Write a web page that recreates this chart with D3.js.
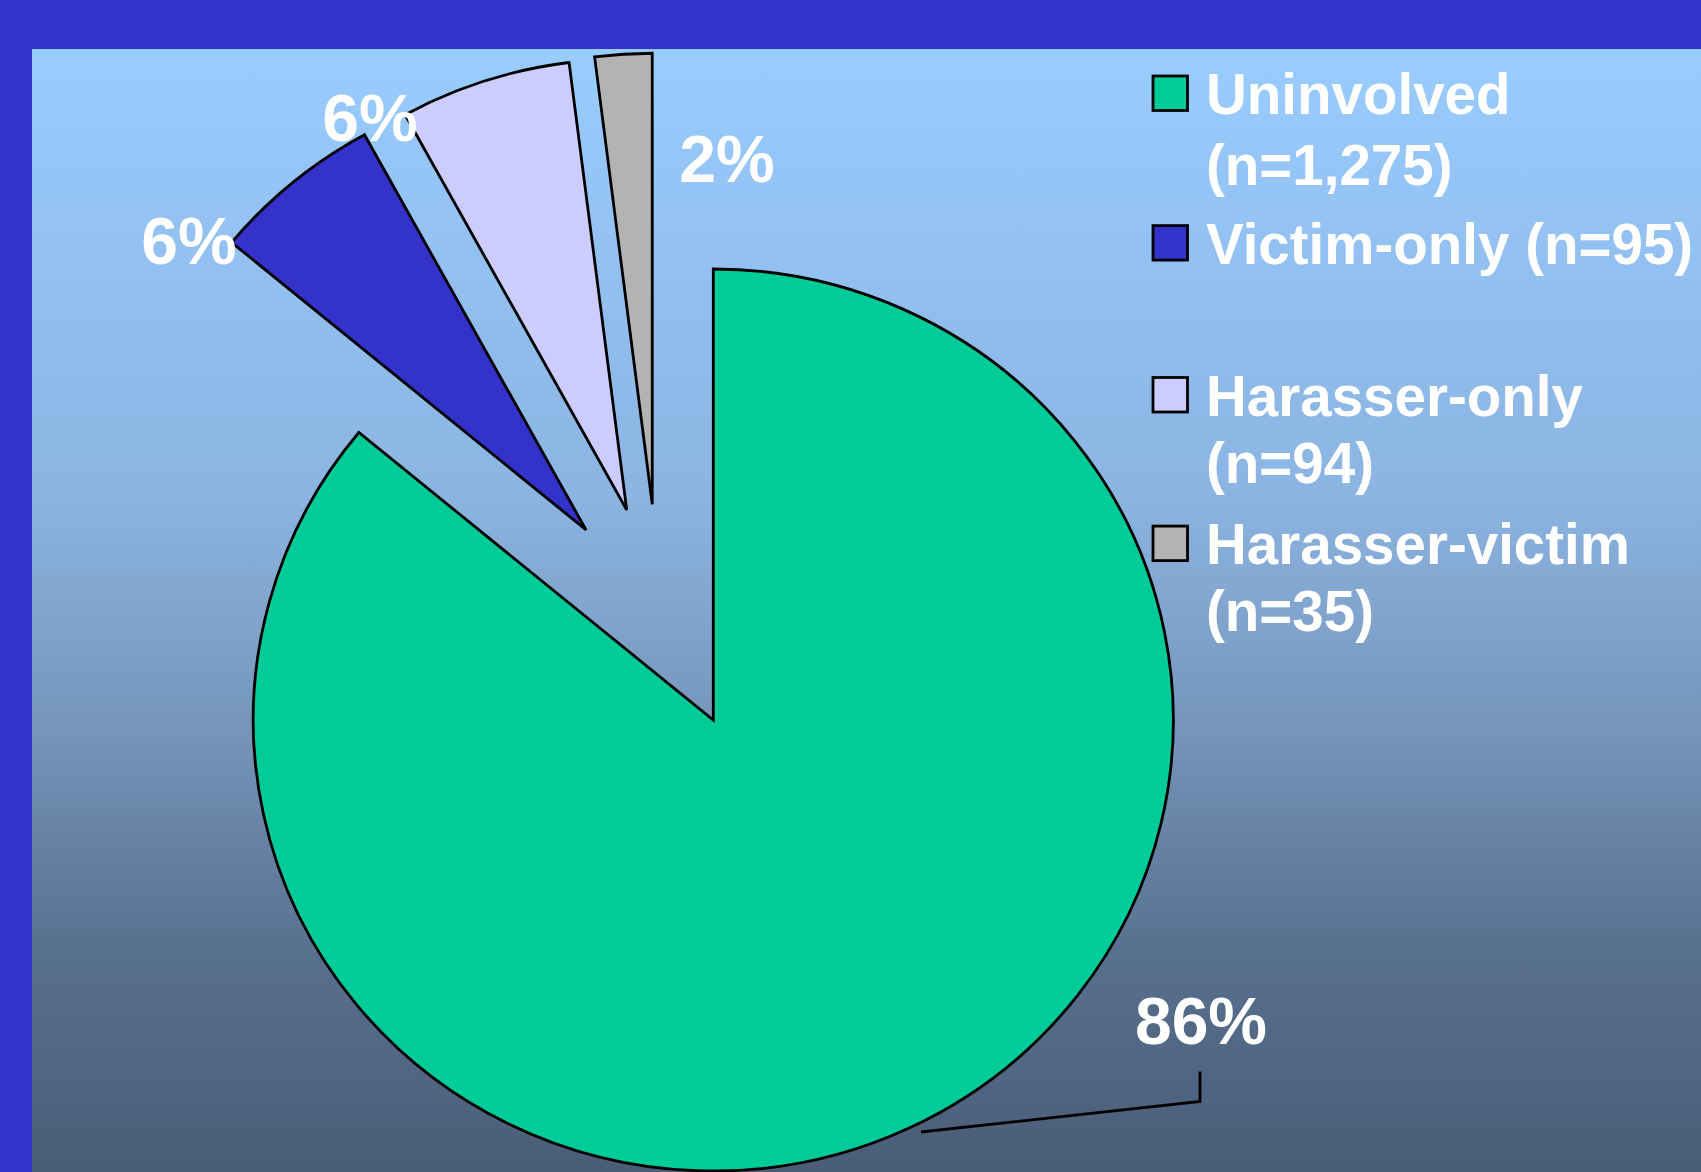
<!DOCTYPE html>
<html>
<head>
<meta charset="utf-8">
<script src="https://cdn.jsdelivr.net/npm/d3@7"></script>
<style>
  html, body { margin: 0; padding: 0; background: #3333CC; }
  svg { display: block; }
</style>
</head>
<body>
<svg id="chart" width="1701" height="1172"></svg>
<script>
// ---- data ----
const categories = ["Uninvolved", "Victim-only", "Harasser-only", "Harasser-victim"];
const values = [86, 6, 6, 2];
const percentLabels = ["86%", "6%", "6%", "2%"];
const legendLines = [
  ["Uninvolved", "(n=1,275)"],
  ["Victim-only (n=95)", ""],
  ["Harasser-only", "(n=94)"],
  ["Harasser-victim", "(n=35)"]
];

// ---- layout / style ----
const W = 1701, H = 1172;
const colors = ["#00CC99", "#3333CC", "#CCCCFF", "#B3B3B3"];
const cx = 713.3, cy = 720;
const rx = 460, ry = 451;
const explode = [ {a: 0, d: 0}, {a: 326.2, d: 228.7}, {a: 337.6, d: 227.2}, {a: 344.2, d: 224.2} ];
const labelPos = [ [1201, 1044], [189, 263.6], [370, 141], [727, 182] ];
const leader = [[921, 1132], [1200, 1101.5], [1200, 1071.5]];
const legendX = 1153, legendTextX = 1206, boxSize = 34.5;
const legendBaselines = [[114, 184.5], [263.6, 333], [415.5, 482.7], [564.1, 631.3]];
const fontFamily = "'Liberation Sans', Arial, Helvetica, sans-serif";

const svg = d3.select("#chart");

// background
const defs = svg.append("defs");
const grad = defs.append("linearGradient").attr("id", "bg").attr("x1", 0).attr("y1", 0).attr("x2", 0).attr("y2", 1);
[[0, "#99CCFF"], [0.4, "#8BB4E1"], [0.6, "#7696BB"], [0.8, "#58718F"], [1, "#4A5D78"]]
  .forEach(([o, c]) => grad.append("stop").attr("offset", o).attr("stop-color", c));

svg.append("rect").attr("x", 0).attr("y", 0).attr("width", W).attr("height", H).attr("fill", "#3333CC");
svg.append("rect").attr("x", 32).attr("y", 49).attr("width", W - 32).attr("height", H - 49).attr("fill", "url(#bg)");

// pie
const pie = d3.pie().sort(null).value(d => d)(values);
const arc = d3.arc().innerRadius(0).outerRadius(rx);
const k = ry / rx;

svg.append("g").selectAll("path").data(pie).join("path")
  .attr("d", arc)
  .attr("transform", (d, i) => {
    const e = explode[i];
    const [dx, dy] = d3.pointRadial(e.a * Math.PI / 180, e.d);
    return `translate(${cx + dx},${cy + dy}) scale(1,${k})`;
  })
  .attr("fill", (d, i) => colors[i])
  .attr("stroke", "#000")
  .attr("stroke-width", 2.8)
  .attr("stroke-linejoin", "miter")
  .attr("vector-effect", "non-scaling-stroke");

// leader line for the large slice
svg.append("path")
  .attr("d", d3.line()(leader))
  .attr("fill", "none")
  .attr("stroke", "#000")
  .attr("stroke-width", 2.8);

// percent labels
svg.append("g").selectAll("text").data(percentLabels).join("text")
  .attr("x", (d, i) => labelPos[i][0])
  .attr("y", (d, i) => labelPos[i][1])
  .attr("text-anchor", "middle")
  .attr("font-family", fontFamily)
  .attr("font-weight", "bold")
  .attr("font-size", 66)
  .attr("fill", "#fff")
  .text(d => d);

// legend
const lg = svg.append("g");
categories.forEach((c, i) => {
  const b = legendBaselines[i];
  lg.append("rect")
    .attr("x", legendX).attr("y", b[0] - 38)
    .attr("width", boxSize).attr("height", boxSize)
    .attr("fill", colors[i]).attr("stroke", "#000").attr("stroke-width", 2.8);
  legendLines[i].forEach((t, j) => {
    if (!t) return;
    lg.append("text")
      .attr("x", legendTextX).attr("y", b[j])
      .attr("font-family", fontFamily)
      .attr("font-weight", "bold")
      .attr("font-size", 56.5)
      .attr("fill", "#fff")
      .text(t);
  });
});
</script>
</body>
</html>
